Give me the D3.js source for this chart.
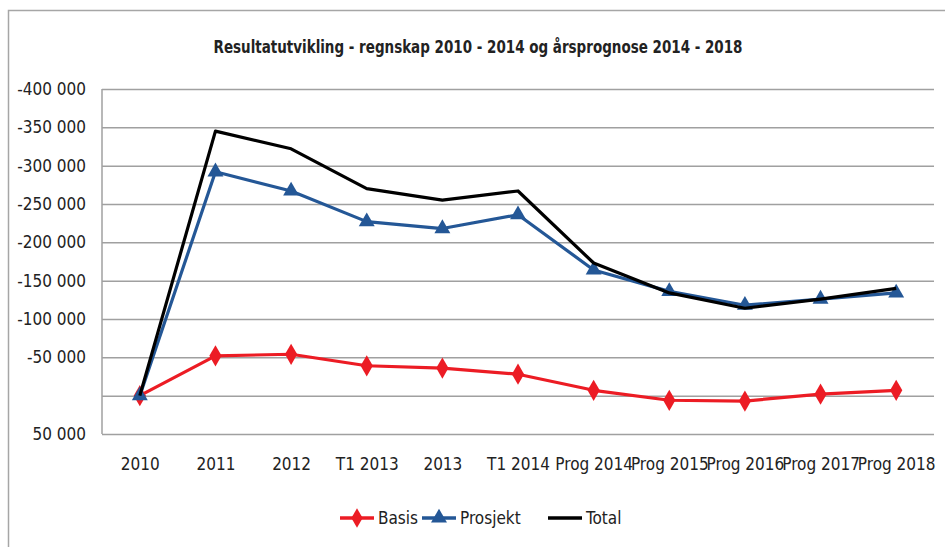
<!DOCTYPE html>
<html>
<head>
<meta charset="utf-8">
<script src="https://cdn.jsdelivr.net/npm/d3@7"></script>
<style>
  body { margin: 0; background: #fff; }
  text { font-family: "Liberation Sans Narrow", "DejaVu Sans Condensed", sans-serif; fill: #222; }
</style>
</head>
<body>
<div id="chart"></div>
<script>
// data
var categories = ["2010", "2011", "2012", "T1 2013", "2013", "T1 2014",
                  "Prog 2014", "Prog 2015", "Prog 2016", "Prog 2017", "Prog 2018"];
var basis    = [0, -52000, -54000, -39000, -36000, -28000, -7000, 6000, 7000, -2000, -7000];
var prosjekt = [0, -292000, -267000, -227000, -218000, -236000, -164000, -136000, -118000, -126000, -134000];
var total    = [0, -345000, -322000, -270000, -255000, -267000, -173000, -134000, -114000, -126000, -140000];
var yTicks = [-400000, -350000, -300000, -250000, -200000, -150000, -100000, -50000, 0, 50000];

var width = 945, height = 547;
var plot = {x0: 102, x1: 934, y0: 89, y1: 434};

var svg = d3.select("#chart").append("svg")
    .attr("width", width)
    .attr("height", height);

// outer frame (only top and left edges are visible)
svg.append("path")
    .attr("d", "M8.5,547 V10.5 H945")
    .attr("fill", "none")
    .attr("stroke", "#a6a6a6")
    .attr("stroke-width", 1.5);

// title
svg.append("text")
    .attr("x", 478)
    .attr("y", 53)
    .attr("text-anchor", "middle")
    .attr("textLength", 529)
    .attr("lengthAdjust", "spacingAndGlyphs")
    .style("font-size", "17px")
    .style("font-weight", "bold")
    .text("Resultatutvikling  -  regnskap 2010 - 2014 og årsprognose 2014 - 2018");

var x = d3.scalePoint()
    .domain(categories)
    .range([plot.x0, plot.x1])
    .padding(0.5);

var y = d3.scaleLinear()
    .domain([-400000, 50000])
    .range([plot.y0, plot.y1]);

var fmt = function(v) {
  if (v === 0) return "";
  return d3.format(",")(v).replace(/,/g, " ").replace("−", "-");
};

// grid + y labels
var yAxis = svg.append("g")
    .attr("transform", "translate(" + plot.x0 + ",0)")
    .call(d3.axisLeft(y).tickValues(yTicks).tickSize(-(plot.x1 - plot.x0)).tickFormat(fmt).tickPadding(16));
yAxis.select(".domain").remove();
yAxis.selectAll(".tick line").attr("stroke", "#a0a0a0").attr("stroke-width", 1.5);
yAxis.selectAll(".tick text")
    .style("font-size", "17px")
    .style("font-family", "'Liberation Sans Narrow', 'DejaVu Sans Condensed', sans-serif")
    .attr("fill", "#222");

// left axis line
svg.append("line")
    .attr("x1", plot.x0).attr("x2", plot.x0)
    .attr("y1", plot.y0).attr("y2", plot.y1)
    .attr("stroke", "#a0a0a0")
    .attr("stroke-width", 1.5);

// x labels
var xAxis = svg.append("g")
    .attr("transform", "translate(0," + plot.y1 + ")")
    .call(d3.axisBottom(x).tickSize(0).tickPadding(24));
xAxis.select(".domain").remove();
xAxis.selectAll(".tick text")
    .style("font-size", "17px")
    .style("font-family", "'Liberation Sans Narrow', 'DejaVu Sans Condensed', sans-serif")
    .attr("fill", "#222");

var series = [
  {name: "Basis", values: basis, color: "#ec1c24", marker: d3.symbolDiamond},
  {name: "Prosjekt", values: prosjekt, color: "#245796", marker: d3.symbolTriangle},
  {name: "Total", values: total, color: "#000000", marker: null}
];

var line = d3.line()
    .x(function(d, i) { return x(categories[i]); })
    .y(function(d) { return y(d); });

series.forEach(function(s) {
  svg.append("path")
      .datum(s.values)
      .attr("fill", "none")
      .attr("stroke", s.color)
      .attr("stroke-width", 3.2)
      .attr("stroke-linejoin", "round")
      .attr("d", line);
  if (s.marker) {
    svg.selectAll(".m-" + s.name)
        .data(s.values)
      .enter().append("path")
        .attr("class", "m-" + s.name)
        .attr("transform", function(d, i) { return "translate(" + x(categories[i]) + "," + y(d) + ")"; })
        .attr("d", d3.symbol().type(s.marker).size(s.marker === d3.symbolDiamond ? 130 : 110))
        .attr("fill", s.color);
  }
});

// legend
var legendX = [340, 422, 548];
var legend = svg.selectAll(".legend")
    .data(series)
  .enter().append("g")
    .attr("transform", function(d, i) { return "translate(" + legendX[i] + ",518)"; });
legend.append("line")
    .attr("x1", 0).attr("x2", 34)
    .attr("stroke", function(d) { return d.color; })
    .attr("stroke-width", 3.5);
legend.filter(function(d) { return d.marker; })
    .append("path")
    .attr("transform", "translate(17,0)")
    .attr("d", function(d) { return d3.symbol().type(d.marker).size(110)(); })
    .attr("fill", function(d) { return d.color; });
legend.append("text")
    .attr("x", 38)
    .attr("dy", "0.35em")
    .style("font-size", "17px")
    .text(function(d) { return d.name; });
</script>
</body>
</html>
